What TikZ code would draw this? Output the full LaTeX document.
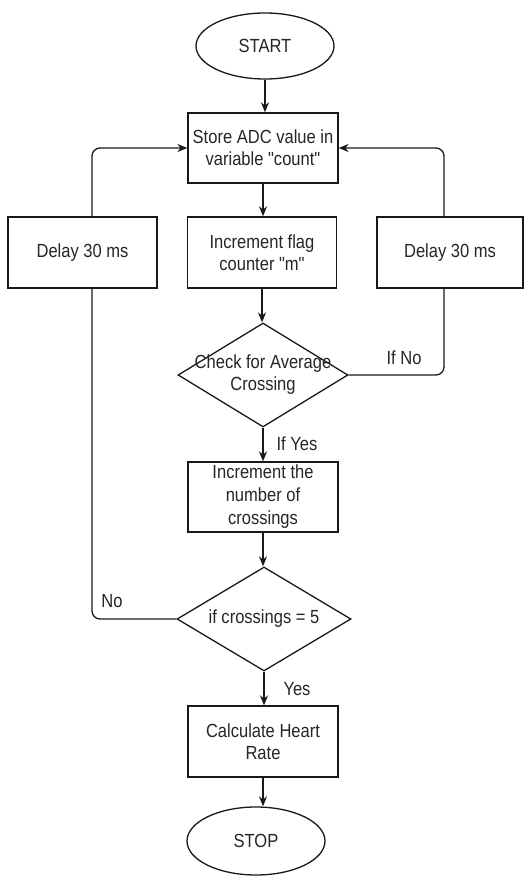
\documentclass[tikz,border=0pt]{standalone}
\usepackage{fontspec}
\setmainfont{Liberation Sans}[FakeStretch=0.87, Ligatures=TeXOff]
\usetikzlibrary{shapes.geometric,arrows.meta}
\begin{document}
\begin{tikzpicture}[x=1pt,y=-1pt,
 every node/.style={font=\fontsize{19}{22}\selectfont, text=black!85},
 box/.style={draw=black!90, line width=1.3pt, minimum width=150pt, minimum height=70pt, align=center, inner sep=0pt},
 term/.style={draw=black!90, ellipse, line width=1.3pt, minimum width=138pt, minimum height=66pt, inner sep=0pt},
 dia/.style={draw=black!90, diamond, line width=1.3pt, inner sep=0pt},
 lbl/.style={align=center, inner sep=0pt},
 arr/.style={draw=black!90, line width=1.3pt, -{Stealth[length=10pt,width=8pt]}},
 ln/.style={draw=black!90, line width=1.3pt, rounded corners=8pt}]
\useasboundingbox (0,0) rectangle (526,877);
\fill[white] (0,0) rectangle (526,877);

\node[term] (start) at (265,46) {START};
\node[box] (store) at (263,148) {Store ADC value in\\variable "count"};
\node[box, minimum width=149pt, minimum height=71pt] (flag) at (262,252.5) {Increment flag\\counter "m"};
\node[box, minimum width=149pt, minimum height=71pt] (dl) at (82.5,252.5) {Delay 30 ms};
\node[box, minimum width=146pt, minimum height=71pt] (dr) at (450,252.5) {Delay 30 ms};
\node[dia, minimum width=170pt, minimum height=104pt] (d1) at (263,375) {};
\node[lbl] (d1t) at (d1.center) {Check for Average\\Crossing};
\node[box, font=\fontsize{19}{23}\selectfont] (inc) at (263,497) {Increment the\\number of\\crossings};
\node[dia, minimum width=174pt, minimum height=104pt] (d2) at (264,619) {};
\node[lbl] (d2t) at (d2.center) {if crossings = 5};
\node[box, minimum height=71pt] (calc) at (263,741.5) {Calculate Heart\\Rate};
\node[term, minimum height=68pt] (stop) at (256,841) {STOP};

\coordinate (lc) at (92,0);
\coordinate (rc) at (444,0);

\draw[arr] (start.south) -- (start.south |- store.north);
\draw[arr] (store.south) -- (store.south |- flag.north);
\draw[arr] (flag.south) -- (flag.south |- d1.north);
\draw[arr] (d1.south) -- (d1.south |- inc.north);
\draw[arr] (inc.south) -- (inc.south |- d2.north);
\draw[arr] (d2.south) -- (d2.south |- calc.north);
\draw[arr] (calc.south) -- (calc.south |- stop.north);

\draw[ln] (d1.east) -| (rc |- dr.south);
\draw[arr, rounded corners=8pt] (rc |- dr.north) |- (store.east);
\draw[ln] (d2.west) -| (lc |- dl.south);
\draw[arr, rounded corners=8pt] (lc |- dl.north) |- (store.west);

\node[lbl] (lno) at (404,358) {If No};
\node[lbl] (lyes) at (297,444) {If Yes};
\node[lbl] (lno2) at (112,601) {No};
\node[lbl] (lyes2) at (297,689) {Yes};
\end{tikzpicture}
\end{document}
